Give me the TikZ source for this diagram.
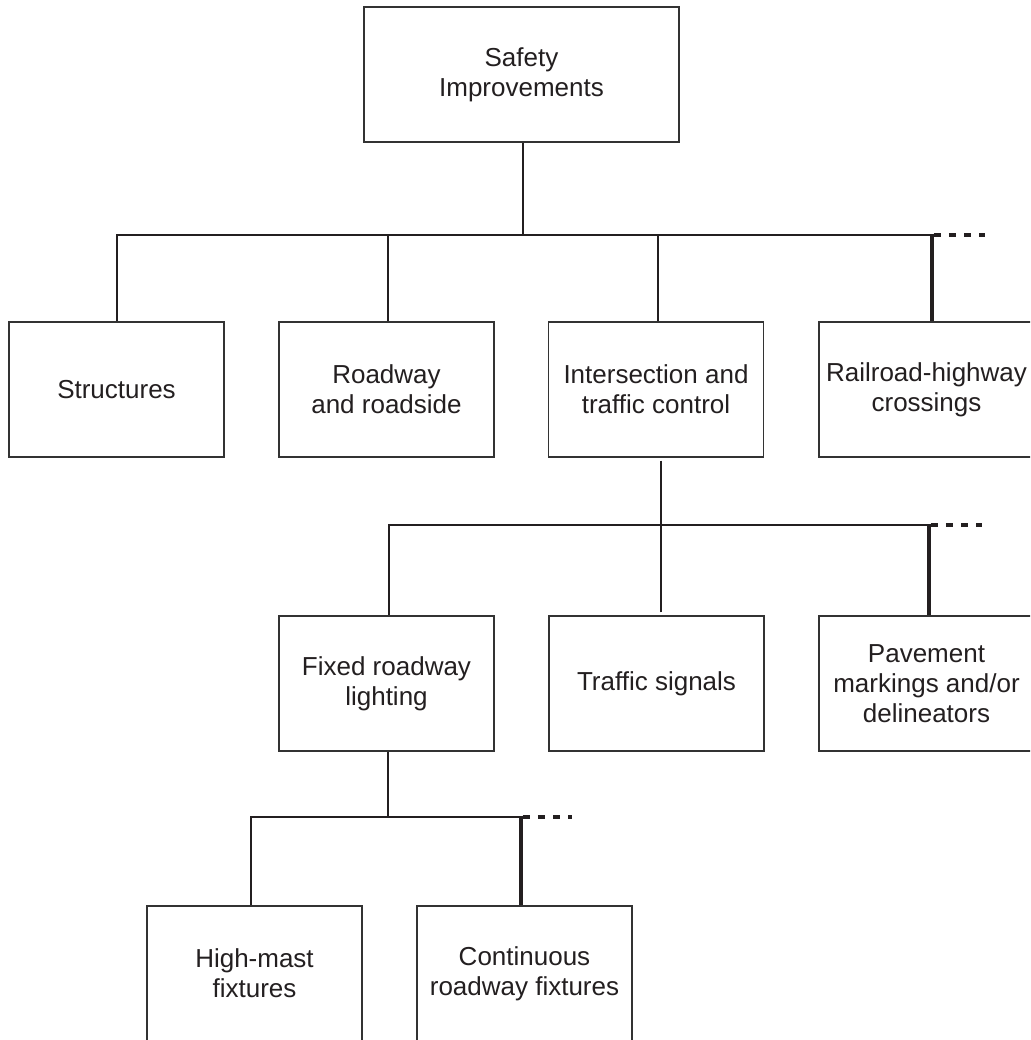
\documentclass[tikz,border=0pt]{standalone}
\usepackage{fontspec}
\setmainfont{Liberation Sans}
\definecolor{ink}{HTML}{231F20}
\definecolor{edge}{HTML}{333333}
\tikzset{
  box/.style={draw=edge, line width=1.4pt, fill=white, minimum width=215pt, minimum height=135pt,
    inner sep=0pt, align=center, text=ink, font=\fontsize{26}{30}\selectfont},
  conn/.style={draw=ink, line width=2.6pt},
  thick conn/.style={draw=ink, line width=3.4pt},
  more/.style={draw=ink, line width=3.4pt, dash pattern=on 7pt off 8.3pt}
}
\begin{document}
\begin{tikzpicture}[x=1pt,y=1pt]
\useasboundingbox (0,0) rectangle (1030,-1040);
\clip (0,0) rectangle (1030,-1040);
% nodes
\node[box, minimum width=315pt] (top) at (521.5,-74.5) {Safety\\Improvements};
\node[box] (struct) at (116.5,-389.5) {Structures};
\node[box] (road) at (386.5,-389.5) {Roadway\\and roadside};
\node[box] (inter) at (656,-389.5) {Intersection and\\traffic control};
\node[box] (rail) at (926.5,-389.5) {Railroad-highway\\crossings};
\node[box] (fixed) at (386.5,-683.5) {Fixed roadway\\lighting};
\node[box] (sig) at (656.5,-683.5) {Traffic signals};
\node[box] (pave) at (926.5,-683.5) {Pavement\\markings and/or\\delineators};
\node[box] (mast) at (254.5,-973.5) {High-mast\\fixtures};
\node[box] (cont) at (524.5,-973.5) {Continuous\\roadway fixtures};
% bus levels
\coordinate (bus1) at (0,-235);
\coordinate (bus2) at (0,-525);
\coordinate (bus3) at (0,-817);
% level 1
\draw[conn] ([xshift=1.5pt]top.south) -- ([xshift=1.5pt]top.south |- bus1);
\draw[conn] ([xshift=0.5pt]struct.north) |- ([xshift=5.5pt]rail.north |- bus1);
\draw[conn] ([xshift=1.5pt]road.north) -- ([xshift=1.5pt]road.north |- bus1);
\draw[conn] ([xshift=2pt]inter.north) -- ([xshift=2pt]inter.north |- bus1);
\draw[thick conn] ([xshift=5.5pt]rail.north) -- ([xshift=5.5pt,yshift=1.3pt]rail.north |- bus1);
\coordinate (end1) at ([xshift=58.5pt]rail.north |- bus1);
\draw[more] ([xshift=7pt]rail.north |- bus1) -- (end1);
% level 2
\draw[conn] ([xshift=5pt,yshift=-3pt]inter.south) -- ([xshift=5pt]inter.south |- bus2);
\draw[conn] ([xshift=2.5pt]fixed.north) |- ([xshift=2.5pt]pave.north |- bus2);
\draw[conn] ([xshift=4.5pt,yshift=3pt]sig.north) -- ([xshift=4.5pt]sig.north |- bus2);
\draw[thick conn] ([xshift=2.5pt]pave.north) -- ([xshift=2.5pt,yshift=1.3pt]pave.north |- bus2);
\coordinate (end2) at ([xshift=55.5pt]pave.north |- bus2);
\draw[more] ([xshift=4pt]pave.north |- bus2) -- (end2);
% level 3
\draw[conn] ([xshift=1.5pt]fixed.south) -- ([xshift=1.5pt]fixed.south |- bus3);
\draw[conn] ([xshift=-3.5pt]mast.north) |- ([xshift=-3.5pt]cont.north |- bus3);
\draw[thick conn] ([xshift=-3.5pt]cont.north) -- ([xshift=-3.5pt,yshift=1.3pt]cont.north |- bus3);
\coordinate (end3) at ([xshift=47.5pt]cont.north |- bus3);
\draw[more] ([xshift=-2pt]cont.north |- bus3) -- (end3);
\end{tikzpicture}
\end{document}
